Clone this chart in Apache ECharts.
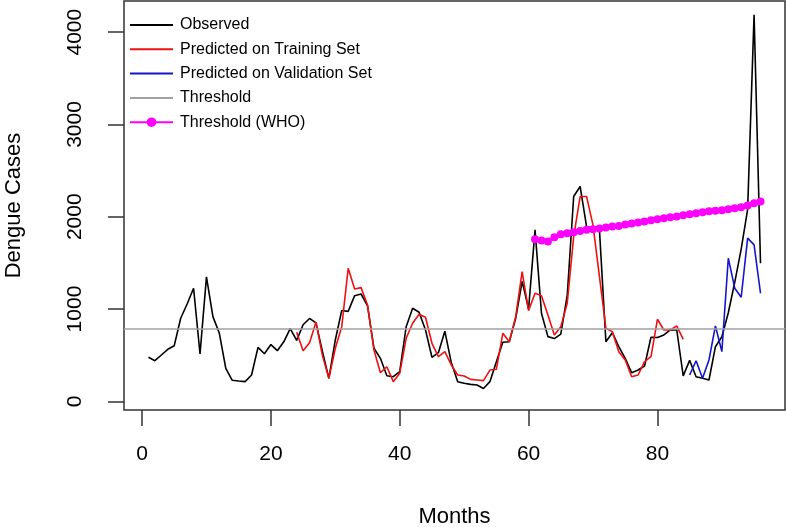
<!DOCTYPE html>
<html>
<head>
<meta charset="utf-8">
<script src="https://cdn.jsdelivr.net/npm/echarts@6/dist/echarts.min.js"></script>
<style>
  html, body { margin: 0; padding: 0; background: #fff; }
  #chart { width: 786px; height: 527px; }
</style>
</head>
<body>
<div id="chart"></div>
<script>
// months 1..96
const observed = [
  477, 440, 502, 564, 603, 900, 1055, 1225, 513, 1348,
  918, 737, 358, 228, 220, 213, 285, 584, 515, 615,
  549, 645, 788, 660, 830, 898, 850, 540, 249, 665,
  985, 975, 1145, 1163, 1034, 575, 466, 278, 267, 321,
  809, 1009, 965, 773, 477, 527, 760, 420, 213, 195,
  184, 177, 139, 213, 430, 640, 646, 900, 1300, 1000,
  1858, 954, 701, 680, 728, 1150, 2219, 2328, 1894, 1876,
  1858, 646, 744, 592, 466, 310, 339, 383, 694, 692,
  719, 773, 773, 276, 444, 267, 249, 231, 592, 700,
  960, 1290, 1650, 2080, 4189, 1497
];

// months 24..84
const trainStart = 24;
const trainPred = [
  748, 549, 635, 858, 495, 249, 575, 809, 1442, 1218,
  1232, 1044, 556, 310, 375, 213, 304, 683, 846, 944,
  911, 629, 484, 538, 394, 285, 274, 238, 231, 224,
  339, 347, 737, 646, 918, 1406, 983, 1171, 1145, 936,
  719, 809, 1063, 1785, 2219, 2219, 1910, 1352, 792, 755,
  538, 448, 267, 285, 430, 484, 889, 773, 773, 817,
  672
];

// months 85..96
const validStart = 85;
const validPred = [285, 440, 249, 448, 817, 538, 1551, 1226, 1128, 1768, 1695, 1171];

// months 61..96
const whoStart = 61;
const whoThreshold = [
  1757, 1742, 1731, 1778, 1811, 1822, 1833, 1847, 1858, 1865,
  1872, 1883, 1894, 1901, 1916, 1927, 1937, 1948, 1963, 1974,
  1985, 1995, 2003, 2017, 2028, 2039, 2050, 2060, 2064, 2071,
  2082, 2093, 2104, 2122, 2147, 2165
];

const threshold = 787;

const xTicks = [0, 20, 40, 60, 80];
const yTicks = [0, 1000, 2000, 3000, 4000];

const pairs = (arr, start) => arr.map((v, i) => [start + i, v]);

const chart = echarts.init(document.getElementById("chart"));
const font = "Liberation Sans, Arial, sans-serif";
const noSymbol = { opacity: 0 };

const option = {
  animation: false,
  grid: {
    left: 124, right: 1, top: 1, bottom: 117,
    outerBoundsMode: "none", containLabel: false,
    show: true, borderColor: "#333", borderWidth: 1.5, backgroundColor: "transparent"
  },
  legend: {
    orient: "vertical",
    left: 129, top: 16, padding: 0,
    itemWidth: 43, itemHeight: 12, itemGap: 6.3,
    textStyle: { fontFamily: font, fontSize: 16, lineHeight: 18, color: "#000", padding: [0, 0, 0, 2] },
    data: [
      { name: "Observed", itemStyle: noSymbol },
      { name: "Predicted on Training Set", itemStyle: noSymbol },
      { name: "Predicted on Validation Set", itemStyle: noSymbol },
      { name: "Threshold", itemStyle: noSymbol },
      { name: "Threshold (WHO)" }
    ]
  },
  xAxis: {
    type: "value", min: -2.8, max: 99.8,
    name: "Months", nameLocation: "middle", nameGap: 96,
    nameTextStyle: { fontFamily: font, fontSize: 22, color: "#000" },
    splitLine: { show: false },
    axisLine: { show: false, onZero: false },
    axisTick: { show: true, inside: false, length: 16, customValues: xTicks, lineStyle: { color: "#333", width: 1.5 } },
    axisLabel: { customValues: xTicks, margin: 34, fontFamily: font, fontSize: 21, color: "#000" }
  },
  yAxis: {
    type: "value", min: -94, max: 4338,
    name: "Dengue Cases", nameLocation: "middle", nameGap: 99, nameRotate: 90,
    nameTextStyle: { fontFamily: font, fontSize: 22, color: "#000" },
    splitLine: { show: false },
    axisLine: { show: false, onZero: false },
    axisTick: { show: true, inside: false, length: 16, customValues: yTicks, lineStyle: { color: "#333", width: 1.5 } },
    axisLabel: {
      customValues: yTicks, rotate: 90, margin: 38,
      formatter: (v) => String(v),
      fontFamily: font, fontSize: 21, color: "#000"
    }
  },
  series: [
    {
      name: "Threshold", type: "line", data: [], symbol: "none",
      lineStyle: { color: "#a0a0a0", width: 1.6 }, itemStyle: { color: "#a0a0a0" },
      markLine: {
        silent: true, symbol: "none", label: { show: false },
        lineStyle: { color: "#a0a0a0", width: 1.6, type: "solid" },
        data: [{ yAxis: threshold }]
      }
    },
    {
      name: "Observed", type: "line", data: pairs(observed, 1), symbol: "none",
      lineStyle: { color: "#000", width: 1.6 }, itemStyle: { color: "#000" }
    },
    {
      name: "Predicted on Training Set", type: "line", data: pairs(trainPred, trainStart), symbol: "none",
      lineStyle: { color: "#ee1111", width: 1.6 }, itemStyle: { color: "#ee1111" }
    },
    {
      name: "Predicted on Validation Set", type: "line", data: pairs(validPred, validStart), symbol: "none",
      lineStyle: { color: "#1515cc", width: 1.6 }, itemStyle: { color: "#1515cc" }
    },
    {
      name: "Threshold (WHO)", type: "line", data: pairs(whoThreshold, whoStart),
      symbol: "circle", symbolSize: 8, showSymbol: true,
      lineStyle: { color: "#ff00ff", width: 2 }, itemStyle: { color: "#ff00ff" }
    }
  ]
};

chart.setOption(option);
</script>
</body>
</html>
